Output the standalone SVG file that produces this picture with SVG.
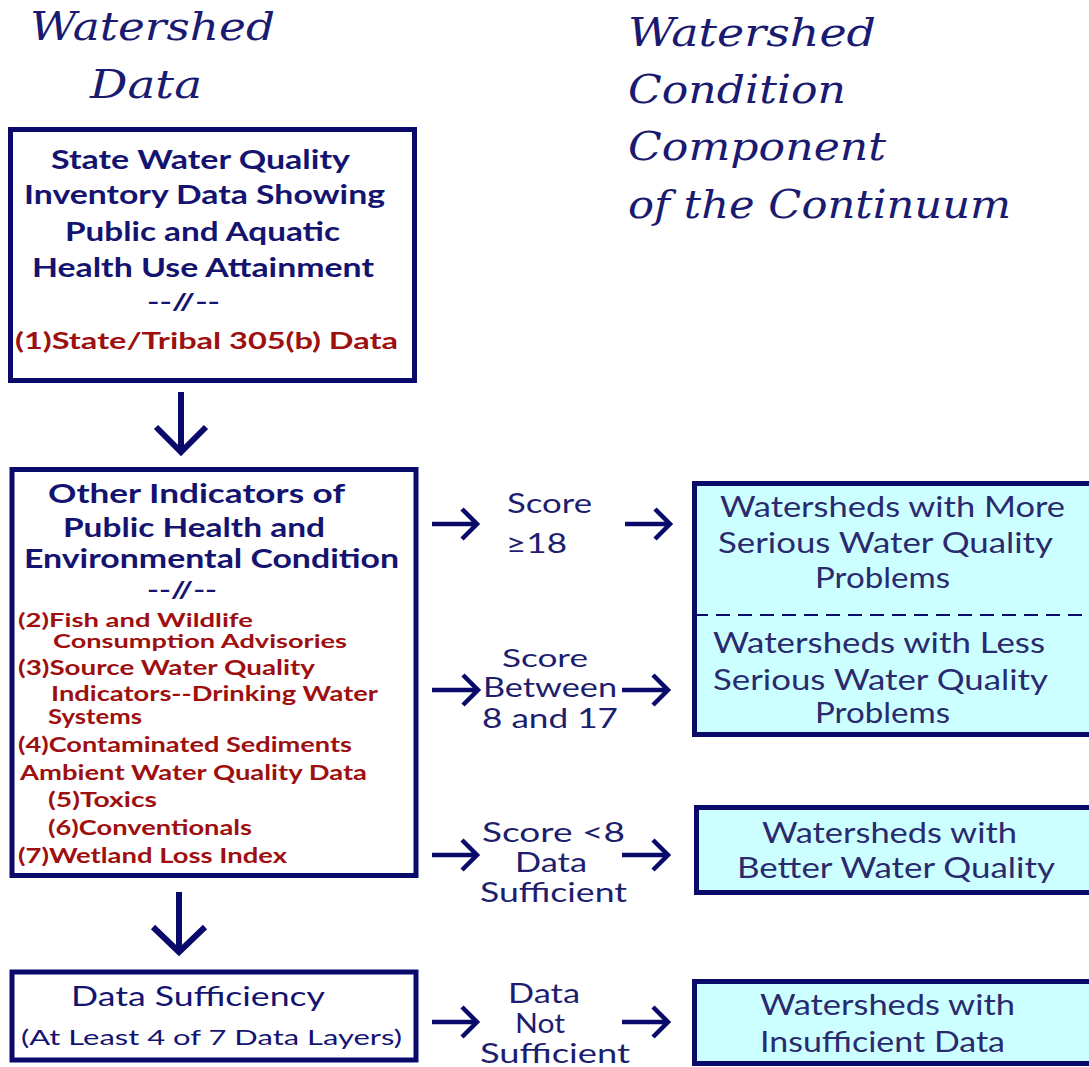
<svg xmlns="http://www.w3.org/2000/svg" width="1089" height="1067" viewBox="0 0 1089 1067">
<style>
.title{font-family:"DejaVu Serif","Liberation Serif",serif;font-style:italic;font-weight:normal;fill:#1a1a70;font-size:40px}
.bt{font-family:Lato,"Open Sans",sans-serif;font-weight:700;fill:#141470;font-size:27px}
.red{font-family:Lato,"Open Sans",sans-serif;font-weight:700;fill:#9e1010;font-size:20px}
.ct{font-family:Lato,"Open Sans",sans-serif;font-weight:400;fill:#2a2a6e;font-size:28px}
.lb{font-family:Lato,"Open Sans",sans-serif;font-weight:400;fill:#1e1e6e;font-size:27px}
.box{fill:#ffffff;stroke:#0a0a6a;stroke-width:5}
.cbox{fill:#ccffff;stroke:#0a0a6a;stroke-width:5}
.arr{fill:none;stroke:#0a0a6a;stroke-width:4.5;stroke-linecap:butt;stroke-linejoin:miter}
</style>
<rect width="1089" height="1067" fill="#ffffff"/>

<g id="titles">
<text class="title" x="30" y="40" textLength="245" lengthAdjust="spacingAndGlyphs">Watershed</text>
<text class="title" x="90" y="98" textLength="112" lengthAdjust="spacingAndGlyphs">Data</text>
<text class="title" x="628" y="46" textLength="248" lengthAdjust="spacingAndGlyphs">Watershed</text>
<text class="title" x="628" y="103" textLength="218" lengthAdjust="spacingAndGlyphs">Condition</text>
<text class="title" x="628" y="160" textLength="258" lengthAdjust="spacingAndGlyphs">Component</text>
<text class="title" x="628" y="218" textLength="383" lengthAdjust="spacingAndGlyphs">of the Continuum</text>
</g>

<g id="node-state-data">
<rect class="box" x="10.5" y="129.5" width="404" height="251"/>
<text class="bt" x="51" y="169" textLength="299" lengthAdjust="spacingAndGlyphs">State Water Quality</text>
<text class="bt" x="24" y="204" textLength="361" lengthAdjust="spacingAndGlyphs">Inventory Data Showing</text>
<text class="bt" x="65" y="241" textLength="275" lengthAdjust="spacingAndGlyphs">Public and Aquatic</text>
<text class="bt" x="32" y="277" textLength="342" lengthAdjust="spacingAndGlyphs">Health Use Attainment</text>
<text class="bt" x="147" y="310" textLength="73" lengthAdjust="spacingAndGlyphs" style="font-size:22px">--//--</text>
<text class="red" x="15" y="349" textLength="383" lengthAdjust="spacingAndGlyphs" style="font-size:23px">(1)State/Tribal 305(b) Data</text>
</g>

<g id="node-other-indicators">
<rect class="box" x="12" y="469.5" width="404" height="406"/>
<text class="bt" x="48" y="503" textLength="297" lengthAdjust="spacingAndGlyphs">Other Indicators of</text>
<text class="bt" x="63" y="537" textLength="262" lengthAdjust="spacingAndGlyphs">Public Health and</text>
<text class="bt" x="24" y="568" textLength="375" lengthAdjust="spacingAndGlyphs">Environmental Condition</text>
<text class="bt" x="147" y="598" textLength="70" lengthAdjust="spacingAndGlyphs" style="font-size:22px">--//--</text>
<text class="red" x="18" y="627" textLength="235" lengthAdjust="spacingAndGlyphs" style="font-size:19px">(2)Fish and Wildlife</text>
<text class="red" x="53" y="648" textLength="294" lengthAdjust="spacingAndGlyphs" style="font-size:19px">Consumption Advisories</text>
<text class="red" x="18" y="675" textLength="297" lengthAdjust="spacingAndGlyphs">(3)Source Water Quality</text>
<text class="red" x="51" y="701" textLength="327" lengthAdjust="spacingAndGlyphs">Indicators--Drinking Water</text>
<text class="red" x="48" y="724" textLength="94" lengthAdjust="spacingAndGlyphs">Systems</text>
<text class="red" x="18" y="752" textLength="334" lengthAdjust="spacingAndGlyphs">(4)Contaminated Sediments</text>
<text class="red" x="20" y="780" textLength="347" lengthAdjust="spacingAndGlyphs">Ambient Water Quality Data</text>
<text class="red" x="48" y="807" textLength="109" lengthAdjust="spacingAndGlyphs">(5)Toxics</text>
<text class="red" x="48" y="835" textLength="204" lengthAdjust="spacingAndGlyphs">(6)Conventionals</text>
<text class="red" x="18" y="863" textLength="269" lengthAdjust="spacingAndGlyphs">(7)Wetland Loss Index</text>
</g>

<g id="node-data-sufficiency">
<rect class="box" x="12" y="972" width="404" height="88"/>
<text class="bt" x="71" y="1006" textLength="254" lengthAdjust="spacingAndGlyphs" style="font-weight:400">Data Sufficiency</text>
<text class="bt" x="21" y="1045" textLength="381" lengthAdjust="spacingAndGlyphs" style="font-size:22px;font-weight:400">(At Least 4 of 7 Data Layers)</text>
</g>

<g id="node-more-less-serious">
<rect class="cbox" x="694.5" y="483.5" width="400" height="251"/>
<line x1="694" y1="615" x2="1089" y2="615" stroke="#0a0a6a" stroke-width="2" stroke-dasharray="14,8"/>
<text class="ct" x="720" y="517" textLength="345" lengthAdjust="spacingAndGlyphs">Watersheds with More</text>
<text class="ct" x="718" y="553" textLength="335" lengthAdjust="spacingAndGlyphs">Serious Water Quality</text>
<text class="ct" x="815" y="588" textLength="135" lengthAdjust="spacingAndGlyphs">Problems</text>
<text class="ct" x="713" y="653" textLength="332" lengthAdjust="spacingAndGlyphs">Watersheds with Less</text>
<text class="ct" x="713" y="690" textLength="335" lengthAdjust="spacingAndGlyphs">Serious Water Quality</text>
<text class="ct" x="815" y="723" textLength="135" lengthAdjust="spacingAndGlyphs">Problems</text>
</g>

<g id="node-better-quality">
<rect class="cbox" x="696.5" y="807.5" width="400" height="85"/>
<text class="ct" x="762" y="843" textLength="255" lengthAdjust="spacingAndGlyphs">Watersheds with</text>
<text class="ct" x="737" y="878" textLength="318" lengthAdjust="spacingAndGlyphs">Better Water Quality</text>
</g>

<g id="node-insufficient">
<rect class="cbox" x="694.5" y="981.5" width="400" height="82"/>
<text class="ct" x="760" y="1015" textLength="255" lengthAdjust="spacingAndGlyphs">Watersheds with</text>
<text class="ct" x="760" y="1052" textLength="245" lengthAdjust="spacingAndGlyphs">Insufficient Data</text>
</g>

<g id="labels">
<text class="lb" x="507" y="513" textLength="85" lengthAdjust="spacingAndGlyphs">Score</text>
<text class="lb" x="506" y="553" textLength="61" lengthAdjust="spacingAndGlyphs">≥18</text>
<text class="lb" x="502" y="667" textLength="86" lengthAdjust="spacingAndGlyphs" style="font-size:25px">Score</text>
<text class="lb" x="483" y="697" textLength="134" lengthAdjust="spacingAndGlyphs" style="font-size:26px">Between</text>
<text class="lb" x="482" y="728" textLength="136" lengthAdjust="spacingAndGlyphs">8 and 17</text>
<text class="lb" x="482" y="842" textLength="143" lengthAdjust="spacingAndGlyphs">Score &lt;8</text>
<text class="lb" x="515" y="872" textLength="72" lengthAdjust="spacingAndGlyphs">Data</text>
<text class="lb" x="480" y="902" textLength="147" lengthAdjust="spacingAndGlyphs">Sufficient</text>
<text class="lb" x="508" y="1003" textLength="72" lengthAdjust="spacingAndGlyphs">Data</text>
<text class="lb" x="515" y="1033" textLength="50" lengthAdjust="spacingAndGlyphs">Not</text>
<text class="lb" x="480" y="1063" textLength="150" lengthAdjust="spacingAndGlyphs">Sufficient</text>
</g>

<g id="connectors">
<path class="arr" d="M181 392 V452 M156 427 L181 452 L206 427" style="stroke-width:6"/>
<path class="arr" d="M179 892 V952 M153 927 L179 952 L205 927" style="stroke-width:6"/>
<path class="arr" d="M432 524 H476 M462 509 L477 524 L462 539"/>
<path class="arr" d="M625 524 H669 M655 509 L670 524 L655 539"/>
<path class="arr" d="M432 690 H477 M463 675 L478 690 L463 705"/>
<path class="arr" d="M622 690 H667 M653 675 L668 690 L653 705"/>
<path class="arr" d="M432 855 H476 M462 840 L477 855 L462 870"/>
<path class="arr" d="M622 855 H667 M653 840 L668 855 L653 870"/>
<path class="arr" d="M432 1022 H476 M462 1007 L477 1022 L462 1037"/>
<path class="arr" d="M622 1022 H667 M653 1007 L668 1022 L653 1037"/>
</g>
</svg>
